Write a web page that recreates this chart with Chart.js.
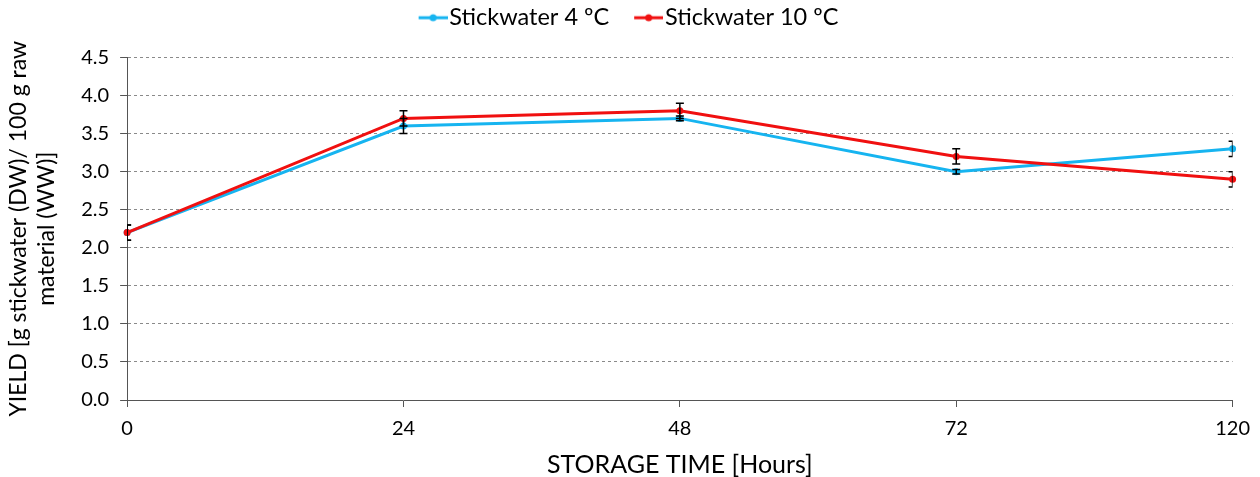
<!DOCTYPE html>
<html><head><meta charset="utf-8">
<script src="https://cdn.jsdelivr.net/npm/chart.js@4"></script>
<style>html,body{margin:0;padding:0;background:#fff}#wrap{width:1260px;height:477px}</style>
</head><body><div id="wrap"><canvas id="c" width="1260" height="477"></canvas></div>
<script>
const categories = ["0", "24", "48", "72", "120"];
const seriesNames = ["Stickwater 4 ºC", "Stickwater 10 ºC"];
const yield4 = [2.2, 3.6, 3.7, 3.0, 3.3];
const yield10 = [2.2, 3.7, 3.8, 3.2, 2.9];
const err4 = [0.1, 0.1, 0.03, 0.03, 0.1];
const err10 = [0.1, 0.1, 0.1, 0.1, 0.1];
const yTicks = [0, 0.5, 1.0, 1.5, 2.0, 2.5, 3.0, 3.5, 4.0, 4.5];

const FONT = "Lato, 'Liberation Sans', sans-serif";
const BLUE = "#16b4f0", RED = "#f01010";

function legendIcon(color){
  const c = document.createElement('canvas');
  c.width = 58; c.height = 10;
  const x = c.getContext('2d');
  x.strokeStyle = color; x.lineWidth = 3;
  x.beginPath(); x.moveTo(29,5); x.lineTo(58,5); x.stroke();
  x.fillStyle = color; x.beginPath(); x.arc(43.5,5,3.5,0,Math.PI*2); x.fill();
  return c;
}

const legendSpace = {
  id: 'legendSpace',
  beforeUpdate(chart){
    const lg = chart.legend;
    if (lg && !lg._patched){
      const fit = lg.fit;
      lg.fit = function(){ fit.call(this); this.height += 18; };
      lg._patched = true;
    }
  }
};

const errorBars = {
  id: 'errorBars',
  afterDatasetsDraw(chart){
    const ctx = chart.ctx, y = chart.scales.y, a = chart.chartArea;
    const errs = [err4, err10];
    ctx.save();
    ctx.beginPath(); ctx.rect(a.left, a.top - 10, a.right - a.left, a.bottom - a.top + 20); ctx.clip();
    ctx.strokeStyle = '#000'; ctx.lineWidth = 1.5;
    chart.data.datasets.forEach((ds, di) => {
      const meta = chart.getDatasetMeta(di);
      meta.data.forEach((pt, i) => {
        const v = ds.data[i], e = errs[di][i];
        const yt = y.getPixelForValue(v + e), yb = y.getPixelForValue(v - e);
        const px = pt.x, w = 4;
        ctx.beginPath();
        ctx.moveTo(px, yt); ctx.lineTo(px, yb);
        ctx.moveTo(px - w, yt); ctx.lineTo(px + w, yt);
        ctx.moveTo(px - w, yb); ctx.lineTo(px + w, yb);
        ctx.stroke();
      });
    });
    ctx.restore();
  }
};

new Chart(document.getElementById('c'), {
  type: 'line',
  data: {
    labels: categories,
    datasets: [
      { label: seriesNames[0], data: yield4, borderColor: BLUE, backgroundColor: BLUE,
        borderWidth: 3, pointRadius: 3.5, pointBorderWidth: 0, tension: 0, order: 1 },
      { label: seriesNames[1], data: yield10, borderColor: RED, backgroundColor: RED,
        borderWidth: 3, pointRadius: 3.5, pointBorderWidth: 0, tension: 0, order: 0 }
    ]
  },
  options: {
    responsive: false, animation: false,
    layout: { padding: { left: 5, right: 27, top: 0, bottom: 0 } },
    elements: { point: { pointStyle: 'circle' } },
    plugins: {
      tooltip: { enabled: false },
      legend: {
        position: 'top',
        labels: {
          font: { family: FONT, size: 23.5 }, color: '#000',
          usePointStyle: true, pointStyleWidth: 38, padding: 6, boxHeight: 10,
          generateLabels(chart){
            return chart.data.datasets.map((ds, i) => ({
              text: ds.label, fillStyle: ds.borderColor, strokeStyle: ds.borderColor,
              lineWidth: 0, pointStyle: legendIcon(ds.borderColor), datasetIndex: i, hidden: false
            }));
          }
        }
      }
    },
    scales: {
      x: {
        type: 'category', offset: false,
        grid: { drawOnChartArea: false, drawTicks: true, tickLength: 7, tickColor: '#555', tickWidth: 1 },
        border: { color: '#555', width: 1 },
        ticks: { font: { family: FONT, size: 20 }, color: '#000', padding: 10, maxRotation: 0 },
        title: { display: true, text: 'STORAGE TIME [Hours]', font: { family: FONT, size: 25, lineHeight: 1.0 }, color: '#000', padding: { top: 1, bottom: 0 } }
      },
      y: {
        min: 0, max: 4.5,
        afterBuildTicks(scale){ scale.ticks = yTicks.map(v => ({ value: v })); },
        grid: { color: '#8a8a8a', lineWidth: 1, drawTicks: true, tickLength: 7, tickColor: '#555', tickBorderDash: [] },
        border: { color: '#555', width: 1, dash: [3, 3] },
        ticks: { font: { family: FONT, size: 20 }, color: '#000', padding: 11, callback: v => Number(v).toFixed(1) },
        title: { display: true, text: ['YIELD [g stickwater (DW)/ 100 g raw', 'material (WW)]'], font: { family: FONT, size: 23, lineHeight: 1.2 }, color: '#000', padding: { top: 0, bottom: 10 } }
      }
    }
  },
  plugins: [errorBars, legendSpace]
});
</script></body></html>
